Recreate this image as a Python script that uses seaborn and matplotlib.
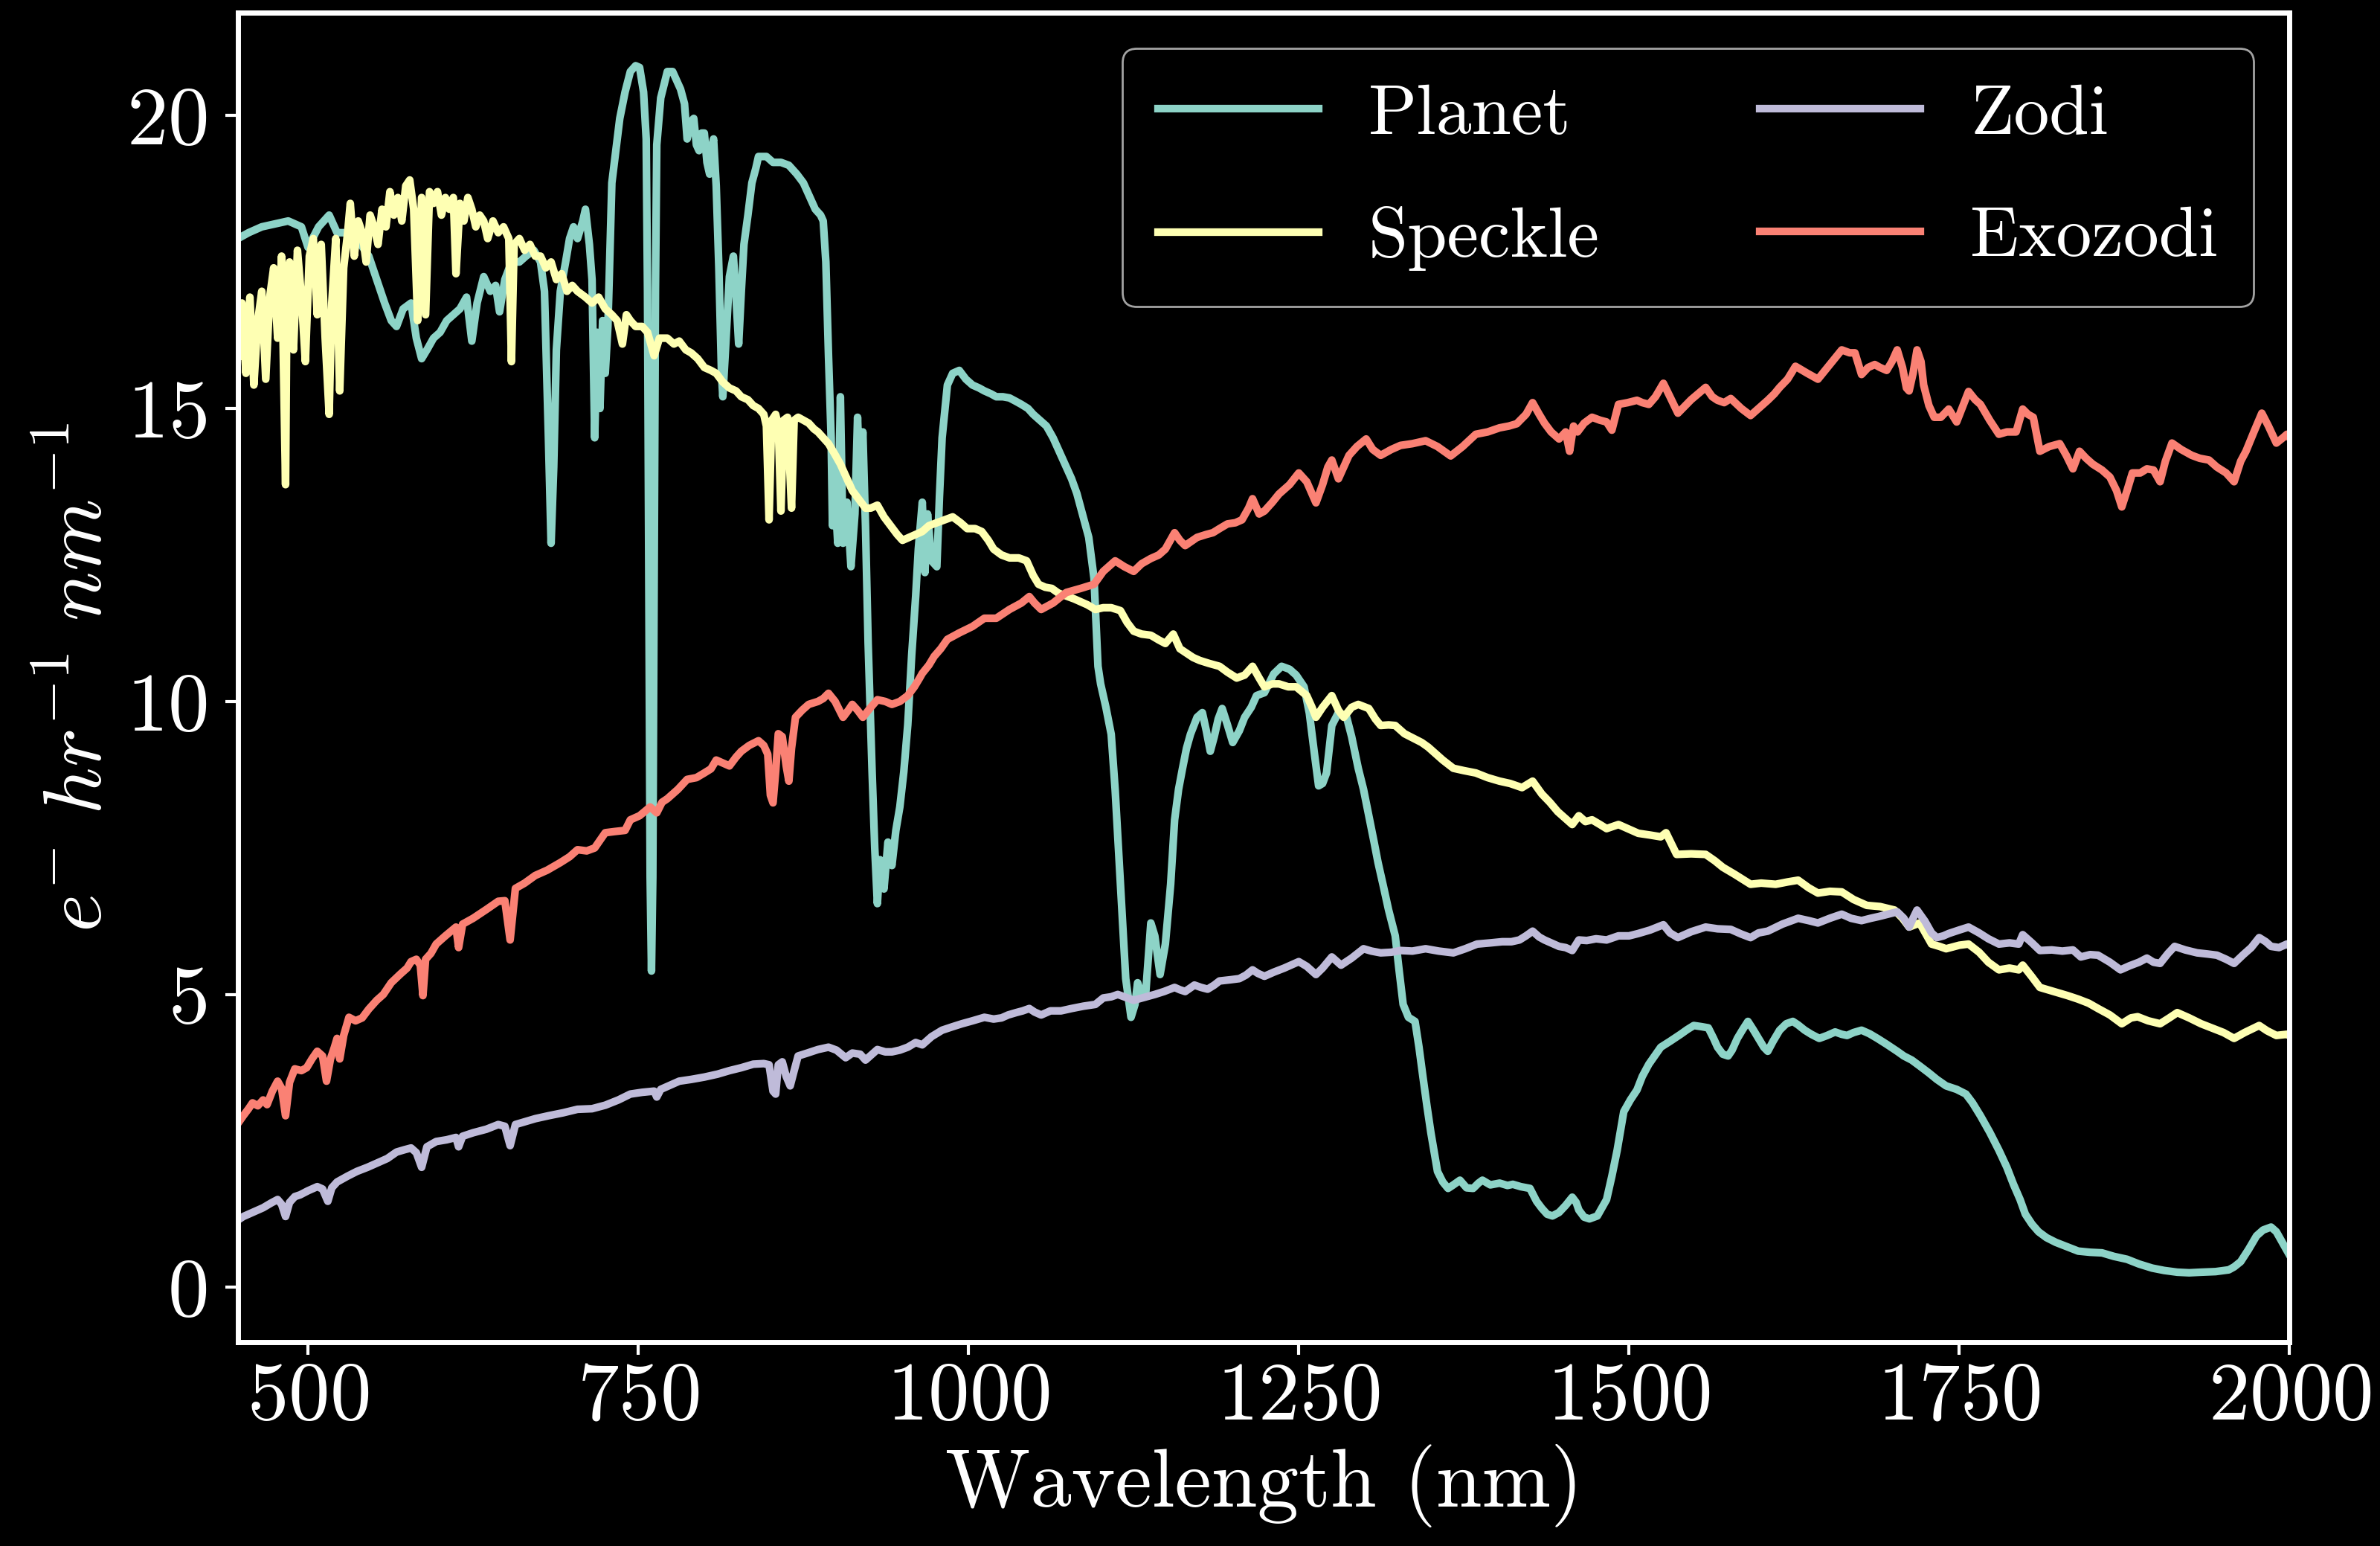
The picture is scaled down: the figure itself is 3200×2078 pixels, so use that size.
import matplotlib
matplotlib.use("Agg")
import matplotlib.pyplot as plt
import seaborn as sns

# === Data ===
planet_nm = [447, 455, 465, 475, 485, 495, 500, 508, 516, 522, 530, 537, 546, 552, 558, 563, 567, 572,
             578, 582, 586, 590, 595, 600, 605, 610, 615, 620, 624, 628, 633, 638, 642, 645, 649, 654,
             660, 665, 671, 676, 679, 682, 684, 686, 688, 691, 695, 698, 701, 704, 708, 710, 713, 715,
             717, 719, 721, 723, 725, 727, 728, 730, 733, 736, 740, 744, 748, 751, 754, 756, 757, 758,
             759, 760, 761, 762, 763, 764, 767, 772, 776, 779, 782, 785, 787, 790, 792, 794, 796, 798,
             800, 802, 804, 806, 807, 809, 811, 813, 814, 816, 819, 822, 824, 826, 828, 830, 833, 836,
             839, 841, 847, 852, 858, 864, 870, 875, 880, 884, 888, 890, 892, 894, 896, 897, 899, 901,
             903, 905, 908, 911, 914, 916, 918, 920, 922, 924, 927, 929, 931, 933, 936, 939, 942, 945,
             948, 951, 954, 957, 960, 962, 965, 967, 969, 972, 976, 978, 980, 984, 988, 993, 998, 1003,
             1008, 1012, 1017, 1021, 1026, 1031, 1036, 1040, 1045, 1049, 1054, 1059, 1064, 1068, 1073,
             1078, 1082, 1085, 1088, 1091, 1093, 1095, 1096, 1098, 1100, 1104, 1108, 1111, 1115, 1119,
             1123, 1126, 1128, 1131, 1134, 1136, 1138, 1141, 1145, 1149, 1153, 1156, 1159, 1162, 1165,
             1168, 1173, 1177, 1180, 1183, 1186, 1189, 1192, 1196, 1200, 1205, 1209, 1214, 1218, 1224,
             1231, 1237, 1243, 1248, 1254, 1258, 1262, 1265, 1268, 1271, 1275, 1280, 1286, 1290, 1295,
             1299, 1303, 1307, 1310, 1314, 1318, 1323, 1326, 1329, 1333, 1338, 1341, 1344, 1347, 1350,
             1355, 1359, 1363, 1367, 1372, 1377, 1382, 1386, 1389, 1395, 1402, 1408, 1412, 1418, 1425,
             1430, 1434, 1438, 1442, 1447, 1452, 1457, 1460, 1462, 1466, 1470, 1476, 1483, 1487, 1491,
             1496, 1501, 1506, 1510, 1515, 1520, 1524, 1531, 1539, 1544, 1549, 1555, 1560, 1564, 1567,
             1571, 1575, 1578, 1582, 1586, 1590, 1594, 1598, 1602, 1605, 1609, 1614, 1619, 1624, 1628,
             1633, 1638, 1644, 1650, 1656, 1661, 1665, 1670, 1676, 1682, 1688, 1695, 1703, 1708, 1714,
             1720, 1727, 1733, 1740, 1748, 1755, 1760, 1766, 1773, 1780, 1786, 1791, 1796, 1800, 1805,
             1810, 1816, 1823, 1831, 1840, 1849, 1858, 1867, 1877, 1886, 1896, 1905, 1915, 1924, 1933,
             1944, 1954, 1958, 1963, 1969, 1975, 1980, 1986, 1990, 1995, 2000]
planet = [17.9, 18.0, 18.1, 18.15, 18.2, 18.1, 17.75, 18.1, 18.3, 18.0, 18.0, 17.9, 17.6, 17.2, 16.8, 16.5,
          16.4, 16.7, 16.8, 16.2, 15.85, 16.0, 16.2, 16.3, 16.5, 16.6, 16.7, 16.9, 16.15, 16.8, 17.25,
          17.0, 17.1, 16.65, 17.2, 17.5, 17.5, 17.6, 17.7, 17.5, 17.0, 14.5, 12.7, 14.0, 16.0, 17.0,
          17.5, 17.9, 18.1, 17.9, 18.2, 18.4, 17.8, 17.2, 14.5, 16.3, 15.0, 16.5, 15.6, 16.4, 17.2,
          18.85, 19.4, 19.95, 20.4, 20.75, 20.85, 20.82, 20.4, 19.6, 17.0, 12.0, 7.0, 5.4, 7.0, 12.0,
          17.0, 19.5, 20.3, 20.75, 20.75, 20.6, 20.45, 20.2, 19.6, 19.9, 19.95, 19.5, 19.4, 19.7, 19.7,
          19.2, 19.0, 19.5, 19.6, 18.8, 17.4, 15.6, 15.2, 16.0, 17.25, 17.6, 16.9, 16.1, 17.0, 17.8,
          18.3, 18.85, 19.1, 19.3, 19.3, 19.2, 19.2, 19.15, 19.0, 18.85, 18.6, 18.4, 18.3, 18.2, 17.5,
          15.9, 14.5, 13.0, 13.5, 12.7, 15.2, 12.7, 13.4, 12.3, 13.2, 14.85, 13.5, 14.6, 13.0, 11.0,
          8.8, 7.5, 6.55, 7.3, 6.8, 7.6, 7.2, 7.8, 8.2, 8.8, 9.6, 10.8, 11.8, 12.6, 13.4, 12.2, 13.2,
          12.4, 12.3, 13.5, 14.5, 15.4, 15.6, 15.65, 15.5, 15.4, 15.35, 15.3, 15.25, 15.2, 15.2, 15.18,
          15.12, 15.07, 15.0, 14.9, 14.8, 14.7, 14.5, 14.3, 14.05, 13.8, 13.55, 13.3, 13.05, 12.8,
          12.45, 12.1, 11.6, 10.6, 10.3, 9.9, 9.44, 8.49, 6.88, 5.27, 4.61, 4.83, 5.2, 5.0, 4.98, 5.6,
          6.22, 6.0, 5.34, 5.86, 6.88, 7.98, 8.5, 8.86, 9.2, 9.44, 9.73, 9.81, 9.5, 9.15, 9.4, 9.7,
          9.88, 9.6, 9.3, 9.5, 9.73, 9.9, 10.1, 10.15, 10.47, 10.6, 10.55, 10.45, 10.25, 9.8, 9.08,
          8.56, 8.6, 8.78, 9.59, 9.81, 9.75, 9.4, 8.86, 8.5, 8.05, 7.6, 7.25, 6.85, 6.44, 6.0, 5.4,
          4.83, 4.61, 4.54, 4.1, 3.59, 3.1, 2.64, 1.98, 1.8, 1.69, 1.75, 1.83, 1.7, 1.69, 1.78, 1.83,
          1.75, 1.78, 1.74, 1.76, 1.72, 1.69, 1.47, 1.35, 1.25, 1.22, 1.28, 1.4, 1.54, 1.45, 1.32, 1.2,
          1.17, 1.22, 1.5, 1.9, 2.34, 3.0, 3.2, 3.37, 3.6, 3.81, 3.97, 4.1, 4.2, 4.32, 4.4, 4.47, 4.45,
          4.43, 4.25, 4.1, 3.98, 3.95, 4.05, 4.25, 4.4, 4.54, 4.4, 4.25, 4.1, 4.03, 4.2, 4.39, 4.5,
          4.54, 4.48, 4.39, 4.32, 4.25, 4.3, 4.36, 4.32, 4.3, 4.35, 4.39, 4.33, 4.25, 4.15, 4.03, 3.95,
          3.88, 3.78, 3.66, 3.55, 3.44, 3.38, 3.3, 3.15, 2.93, 2.65, 2.34, 2.05, 1.76, 1.5, 1.25, 1.08,
          0.95, 0.85, 0.77, 0.7, 0.62, 0.6, 0.59, 0.53, 0.48, 0.4, 0.33, 0.29, 0.26, 0.25, 0.26, 0.27,
          0.3, 0.35, 0.44, 0.65, 0.88, 0.98, 1.03, 0.95, 0.75, 0.55]

speckle_nm = [447, 450, 453, 456, 459, 462, 465, 468, 471, 474, 477, 480, 483, 484, 486, 489, 492, 495,
              498, 501, 504, 507, 510, 513, 516, 518, 521, 524, 527, 530, 532, 535, 538, 541, 544, 547,
              550, 553, 556, 559, 562, 565, 568, 571, 574, 577, 580, 583, 586, 589, 592, 595, 598, 601,
              604, 607, 610, 612, 615, 618, 621, 624, 627, 630, 633, 636, 640, 644, 648, 652, 654, 656,
              660, 664, 668, 672, 676, 680, 684, 688, 692, 696, 700, 704, 710, 715, 720, 725, 730, 734,
              738, 741, 744, 748, 753, 757, 762, 766, 772, 777, 781, 786, 790, 795, 800, 805, 809, 814,
              819, 824, 828, 833, 837, 841, 845, 847, 849, 851, 854, 856, 858, 860, 863, 866, 868, 871,
              875, 879, 883, 886, 890, 894, 898, 903, 907, 912, 917, 922, 926, 931, 936, 941, 946, 950,
              955, 960, 965, 970, 976, 982, 988, 994, 999, 1005, 1010, 1015, 1019, 1025, 1031, 1038,
              1044, 1049, 1053, 1058, 1063, 1068, 1074, 1080, 1085, 1090, 1096, 1102, 1108, 1115, 1120,
              1125, 1131, 1138, 1144, 1149, 1155, 1160, 1164, 1170, 1175, 1182, 1190, 1196, 1203, 1209,
              1215, 1220, 1224, 1230, 1235, 1242, 1248, 1256, 1260, 1263, 1268, 1275, 1280, 1284, 1290,
              1295, 1303, 1308, 1312, 1318, 1323, 1330, 1337, 1343, 1348, 1354, 1359, 1367, 1375, 1384,
              1393, 1402, 1410, 1419, 1427, 1434, 1440, 1446, 1452, 1457, 1462, 1467, 1472, 1478, 1483,
              1492, 1500, 1507, 1516, 1524, 1528, 1536, 1547, 1558, 1565, 1571, 1580, 1592, 1600, 1611,
              1620, 1628, 1636, 1643, 1652, 1661, 1670, 1680, 1690, 1701, 1707, 1712, 1720, 1729, 1735,
              1740, 1750, 1757, 1765, 1772, 1780, 1788, 1795, 1798, 1805, 1811, 1820, 1832, 1840, 1848,
              1855, 1864, 1873, 1880, 1885, 1893, 1902, 1909, 1915, 1924, 1933, 1942, 1950, 1958, 1966,
              1977, 1983, 1990, 1998, 2000]
speckle = [15.9, 16.8, 15.6, 16.9, 15.4, 16.5, 17.0, 15.5, 16.9, 17.4, 16.2, 17.6, 13.7, 16.8, 17.5, 16.0,
           17.7, 16.9, 15.8, 17.6, 17.9, 16.6, 17.8, 16.2, 14.9, 16.8, 17.9, 15.3, 17.4, 18.0, 18.5, 17.6,
           18.2, 18.0, 17.5, 18.3, 18.1, 17.8, 18.4, 18.1, 18.7, 18.3, 18.6, 18.2, 18.8, 18.9, 18.4, 16.5,
           18.6, 16.6, 18.7, 18.5, 18.7, 18.3, 18.6, 18.4, 18.6, 17.3, 18.5, 18.2, 18.6, 18.4, 18.1, 18.3,
           18.2, 17.9, 18.2, 18.0, 18.1, 17.9, 15.8, 17.8, 17.9, 17.7, 17.8, 17.6, 17.6, 17.4, 17.5, 17.2,
           17.3, 17.0, 17.1, 17.0, 16.9, 16.8, 16.9, 16.7, 16.6, 16.5, 16.1, 16.6, 16.5, 16.4, 16.4, 16.3,
           15.9, 16.2, 16.2, 16.1, 16.15, 16.0, 15.95, 15.85, 15.7, 15.65, 15.6, 15.45, 15.35, 15.3, 15.2,
           15.15, 15.05, 15.0, 14.9, 14.7, 13.1, 14.8, 14.9, 14.7, 13.25, 14.8, 14.85, 13.3, 14.8, 14.85,
           14.8, 14.75, 14.65, 14.6, 14.5, 14.4, 14.25, 14.05, 13.85, 13.6, 13.45, 13.3, 13.3, 13.35, 13.15,
           13.0, 12.85, 12.75, 12.8, 12.85, 12.9, 13.0, 13.05, 13.1, 13.15, 13.05, 12.95, 12.95, 12.9,
           12.75, 12.6, 12.5, 12.45, 12.45, 12.4, 12.15, 12.0, 11.95, 11.93, 11.85, 11.8, 11.75, 11.7,
           11.65, 11.57, 11.6, 11.6, 11.55, 11.35, 11.2, 11.15, 11.13, 11.05, 10.99, 11.15, 10.9, 10.84,
           10.75, 10.7, 10.65, 10.6, 10.5, 10.4, 10.45, 10.6, 10.4, 10.25, 10.3, 10.3, 10.25, 10.25, 10.1,
           9.9, 9.73, 9.9, 10.1, 9.85, 9.73, 9.9, 9.95, 9.88, 9.7, 9.59, 9.6, 9.59, 9.45, 9.37, 9.3, 9.22,
           9.1, 9.0, 8.86, 8.82, 8.78, 8.7, 8.64, 8.6, 8.53, 8.64, 8.42, 8.28, 8.12, 8.0, 7.9, 8.05, 7.95,
           7.98, 7.9, 7.83, 7.9, 7.82, 7.75, 7.72, 7.69, 7.76, 7.39, 7.4, 7.39, 7.28, 7.17, 7.05, 6.88, 6.9,
           6.88, 6.92, 6.95, 6.82, 6.73, 6.76, 6.75, 6.62, 6.52, 6.5, 6.44, 6.3, 6.15, 6.22, 5.86, 5.82,
           5.78, 5.84, 5.86, 5.72, 5.55, 5.42, 5.45, 5.42, 5.5, 5.3, 5.12, 5.06, 4.98, 4.92, 4.85, 4.76,
           4.65, 4.5, 4.6, 4.62, 4.55, 4.5, 4.6, 4.69, 4.6, 4.5, 4.42, 4.35, 4.25, 4.35, 4.47, 4.38, 4.3,
           4.32, 4.3]

zodi_nm = [447, 451, 458, 466, 472, 477, 480, 483, 486, 490, 494, 500, 507, 511, 515, 518, 522, 530, 537,
           545, 552, 560, 567, 573, 578, 582, 586, 590, 597, 605, 612, 614, 617, 625, 635, 644, 649, 653,
           657, 663, 672, 682, 693, 704, 715, 725, 735, 744, 753, 762, 764, 767, 774, 781, 790, 800, 810,
           819, 828, 837, 845, 849, 852, 854, 856, 859, 862, 865, 868, 871, 878, 886, 894, 900, 907, 912,
           918, 922, 927, 931, 937, 942, 948, 954, 960, 965, 972, 980, 988, 995, 1003, 1012, 1019, 1025,
           1030, 1036, 1041, 1046, 1050, 1055, 1062, 1070, 1078, 1087, 1096, 1102, 1108, 1113, 1119,
           1125, 1133, 1141, 1148, 1156, 1160, 1164, 1171, 1176, 1181, 1186, 1190, 1198, 1205, 1210,
           1215, 1219, 1224, 1231, 1239, 1244, 1250, 1256, 1263, 1268, 1275, 1282, 1290, 1299, 1305,
           1312, 1320, 1327, 1336, 1346, 1356, 1367, 1376, 1385, 1395, 1404, 1411, 1417, 1422, 1427,
           1432, 1436, 1441, 1447, 1452, 1457, 1462, 1468, 1475, 1483, 1492, 1500, 1507, 1516, 1526,
           1531, 1537, 1547, 1558, 1567, 1577, 1585, 1592, 1598, 1605, 1616, 1628, 1636, 1643, 1652,
           1661, 1668, 1676, 1683, 1689, 1696, 1703, 1708, 1712, 1715, 1718, 1724, 1729, 1733, 1738,
           1742, 1750, 1757, 1765, 1772, 1780, 1788, 1795, 1798, 1805, 1811, 1820, 1828, 1836, 1842,
           1849, 1855, 1864, 1872, 1879, 1886, 1892, 1897, 1902, 1908, 1913, 1921, 1930, 1938, 1945,
           1952, 1958, 1965, 1971, 1977, 1982, 1986, 1992, 1998, 2000]
zodi = [1.15, 1.21, 1.28, 1.36, 1.44, 1.5, 1.42, 1.21, 1.45, 1.55, 1.58, 1.65, 1.72, 1.68, 1.47, 1.7, 1.8,
        1.9, 1.98, 2.05, 2.12, 2.2, 2.31, 2.35, 2.38, 2.3, 2.05, 2.4, 2.49, 2.52, 2.56, 2.4, 2.58, 2.64,
        2.7, 2.78, 2.75, 2.42, 2.78, 2.82, 2.88, 2.93, 2.98, 3.04, 3.05, 3.11, 3.2, 3.3, 3.33, 3.35, 3.25,
        3.38, 3.45, 3.52, 3.55, 3.59, 3.64, 3.7, 3.75, 3.81, 3.82, 3.8, 3.35, 3.3, 3.8, 3.85, 3.6, 3.44,
        3.7, 3.95, 4.0, 4.06, 4.1, 4.05, 3.92, 4.0, 3.98, 3.88, 3.98, 4.06, 4.02, 4.02, 4.05, 4.1, 4.18,
        4.14, 4.28, 4.39, 4.45, 4.5, 4.55, 4.61, 4.58, 4.6, 4.65, 4.69, 4.72, 4.76, 4.7, 4.65, 4.72,
        4.72, 4.76, 4.8, 4.83, 4.94, 4.96, 5.0, 4.95, 4.9, 4.95, 5.0, 5.05, 5.12, 5.08, 5.05, 5.16, 5.12,
        5.09, 5.16, 5.23, 5.25, 5.27, 5.33, 5.42, 5.36, 5.31, 5.38, 5.45, 5.5, 5.56, 5.48, 5.34, 5.45,
        5.64, 5.5, 5.62, 5.78, 5.74, 5.71, 5.72, 5.75, 5.74, 5.78, 5.74, 5.71, 5.78, 5.86, 5.88, 5.9,
        5.9, 5.93, 6.0, 6.08, 5.98, 5.93, 5.88, 5.82, 5.8, 5.75, 5.93, 5.92, 5.95, 5.93, 6.0, 6.0, 6.04,
        6.1, 6.19, 6.05, 5.97, 6.07, 6.15, 6.12, 6.11, 6.03, 5.97, 6.05, 6.08, 6.2, 6.3, 6.26, 6.22, 6.3,
        6.37, 6.3, 6.26, 6.3, 6.33, 6.37, 6.41, 6.3, 6.15, 6.3, 6.44, 6.25, 6.05, 5.97, 6.0, 6.04, 6.1,
        6.15, 6.05, 5.95, 5.86, 5.88, 5.86, 6.02, 5.88, 5.75, 5.76, 5.74, 5.76, 5.64, 5.68, 5.67, 5.55,
        5.42, 5.49, 5.55, 5.62, 5.55, 5.53, 5.7, 5.82, 5.76, 5.71, 5.69, 5.67, 5.6, 5.53, 5.68, 5.8, 5.97,
        5.9, 5.82, 5.8, 5.86, 5.84]

exozodi_nm = [447, 451, 455, 458, 462, 466, 469, 473, 477, 480, 483, 486, 490, 495, 499, 503, 507, 511,
              514, 517, 520, 522, 524, 527, 531, 536, 541, 546, 552, 557, 563, 570, 575, 578, 582, 585,
              587, 589, 593, 597, 604, 612, 614, 617, 625, 635, 644, 649, 653, 657, 664, 672, 681, 691,
              698, 704, 711, 717, 725, 732, 740, 744, 751, 759, 764, 768, 772, 780, 787, 794, 800, 805,
              809, 814, 819, 824, 828, 834, 841, 845, 848, 850, 852, 854, 856, 859, 862, 864, 866, 869,
              874, 879, 886, 890, 894, 899, 905, 909, 912, 916, 920, 926, 931, 937, 942, 948, 954, 959,
              963, 965, 970, 974, 979, 984, 993, 1003, 1012, 1021, 1031, 1040, 1046, 1050, 1055, 1064,
              1074, 1085, 1095, 1102, 1111, 1118, 1125, 1131, 1138, 1144, 1149, 1156, 1160, 1164, 1173,
              1180, 1185, 1190, 1196, 1202, 1207, 1212, 1215, 1220, 1224, 1230, 1235, 1243, 1250, 1256,
              1263, 1268, 1272, 1275, 1280, 1284, 1288, 1294, 1301, 1306, 1312, 1320, 1327, 1336, 1346,
              1355, 1365, 1374, 1384, 1393, 1402, 1409, 1415, 1422, 1427, 1432, 1436, 1441, 1447, 1452,
              1455, 1458, 1461, 1466, 1472, 1478, 1483, 1487, 1492, 1499, 1506, 1510, 1515, 1520, 1526,
              1531, 1537, 1547, 1558, 1563, 1567, 1572, 1577, 1585, 1592, 1598, 1605, 1610, 1614, 1620,
              1626, 1635, 1643, 1652, 1661, 1667, 1671, 1676, 1681, 1686, 1690, 1695, 1699, 1703, 1707,
              1710, 1712, 1715, 1718, 1721, 1723, 1727, 1731, 1736, 1742, 1748, 1752, 1757, 1762, 1766,
              1773, 1780, 1786, 1793, 1798, 1802, 1806, 1811, 1818, 1826, 1831, 1836, 1841, 1846, 1851,
              1858, 1864, 1869, 1873, 1877, 1881, 1887, 1892, 1897, 1902, 1906, 1911, 1918, 1926, 1932,
              1939, 1945, 1952, 1958, 1963, 1967, 1973, 1979, 1984, 1990, 1995, 1998, 2000]
exozodi = [2.8, 2.93, 3.05, 3.15, 3.1, 3.2, 3.12, 3.35, 3.52, 3.4, 2.93, 3.5, 3.73, 3.7, 3.75, 3.9, 4.03,
           3.95, 3.52, 3.9, 4.1, 4.25, 3.9, 4.3, 4.61, 4.55, 4.6, 4.75, 4.9, 5.0, 5.2, 5.35, 5.45, 5.56,
           5.6, 5.5, 4.98, 5.6, 5.7, 5.86, 6.0, 6.15, 5.8, 6.2, 6.3, 6.45, 6.59, 6.6, 5.93, 6.81, 6.9,
           7.03, 7.12, 7.25, 7.35, 7.47, 7.45, 7.5, 7.76, 7.78, 7.8, 7.98, 8.05, 8.2, 8.1, 8.28, 8.34, 8.5,
           8.67, 8.7, 8.78, 8.85, 9.0, 8.95, 8.9, 9.05, 9.15, 9.25, 9.33, 9.25, 9.1, 8.4, 8.27, 8.8, 9.45,
           9.4, 8.9, 8.64, 9.2, 9.73, 9.85, 9.95, 10.0, 10.05, 10.14, 10.0, 9.73, 9.85, 9.95, 9.85, 9.73,
           9.9, 10.03, 10.0, 9.95, 10.0, 10.1, 10.25, 10.4, 10.48, 10.62, 10.77, 10.9, 11.06, 11.17, 11.28,
           11.42, 11.42, 11.57, 11.68, 11.79, 11.68, 11.57, 11.68, 11.86, 11.93, 12.0, 12.22, 12.4, 12.3,
           12.22, 12.35, 12.44, 12.5, 12.6, 12.88, 12.75, 12.66, 12.8, 12.85, 12.88, 12.95, 13.03, 13.05,
           13.1, 13.3, 13.46, 13.2, 13.25, 13.4, 13.54, 13.7, 13.9, 13.75, 13.39, 13.7, 14.0, 14.12, 13.8,
           14.0, 14.2, 14.35, 14.48, 14.3, 14.2, 14.3, 14.37, 14.4, 14.45, 14.35, 14.19, 14.35, 14.56,
           14.6, 14.67, 14.7, 14.74, 14.9, 15.1, 14.9, 14.75, 14.6, 14.48, 14.6, 14.27, 14.7, 14.6, 14.75,
           14.85, 14.8, 14.77, 14.63, 15.07, 15.1, 15.14, 15.1, 15.07, 15.2, 15.43, 15.2, 14.92, 15.15,
           15.36, 15.2, 15.14, 15.1, 15.17, 15.0, 14.88, 15.0, 15.14, 15.25, 15.36, 15.5, 15.72, 15.6,
           15.5, 15.75, 16.0, 15.95, 15.95, 15.58, 15.7, 15.75, 15.7, 15.65, 15.8, 16.0, 15.7, 15.35, 15.3,
           15.6, 16.0, 15.8, 15.4, 15.05, 14.85, 14.85, 14.99, 14.77, 15.0, 15.29, 15.15, 15.07, 14.8,
           14.56, 14.6, 14.6, 14.99, 14.9, 14.85, 14.27, 14.35, 14.4, 14.2, 13.97, 14.27, 14.15, 14.05,
           13.95, 13.83, 13.6, 13.32, 13.6, 13.9, 13.9, 13.97, 13.95, 13.75, 14.1, 14.41, 14.3, 14.2,
           14.15, 14.12, 14.0, 13.9, 13.75, 14.1, 14.27, 14.6, 14.92, 14.7, 14.41, 14.5, 14.56, 14.5]

series_names = ["Planet", "Speckle", "Zodi", "Exozodi"]
series_colors = ["#8dd3c7", "#feffb3", "#bfbbd9", "#fa8174"]
x_ticks = [500, 750, 1000, 1250, 1500, 1750, 2000]
y_ticks = [0, 5, 10, 15, 20]

# === Style ===
plt.style.use("dark_background")
plt.rcParams["font.family"] = "serif"
plt.rcParams["font.serif"] = ["cmr10"]
plt.rcParams["mathtext.fontset"] = "cm"
plt.rcParams["axes.formatter.use_mathtext"] = True

fig = plt.figure(figsize=(16, 10.39), dpi=200)
ax = fig.add_axes([0.100, 0.132, 0.862, 0.860])

all_x = [planet_nm, speckle_nm, zodi_nm, exozodi_nm]
all_y = [planet, speckle, zodi, exozodi]
for nm, vals, name, col in zip(all_x, all_y, series_names, series_colors):
    sns.lineplot(x=nm, y=vals, ax=ax, color=col, linewidth=3.7, label=name,
                 estimator=None, sort=False)

ax.set_xlim(447, 2000)
ax.set_ylim(-0.93, 21.76)
ax.set_xticks(x_ticks)
ax.set_yticks(y_ticks)
ax.tick_params(labelsize=40, width=1.5, length=6)
ax.tick_params(axis="y", pad=9)
ax.set_xlabel("Wavelength (nm)", fontsize=40)
ax.set_ylabel(r"$e^{-}\ hr^{-1}\ nm^{-1}$", fontsize=40)
for sp in ax.spines.values():
    sp.set_color("white")
    sp.set_linewidth(2.5)

leg = ax.legend(ncol=2, loc="upper right", fontsize=34.5, labelspacing=0.82,
                handlelength=2.25, handletextpad=0.7, columnspacing=2.25,
                borderaxespad=0.5, borderpad=0.5)
for line in leg.get_lines():
    line.set_linewidth(3.7)

fig.savefig("out.png", dpi=200, facecolor="black")
